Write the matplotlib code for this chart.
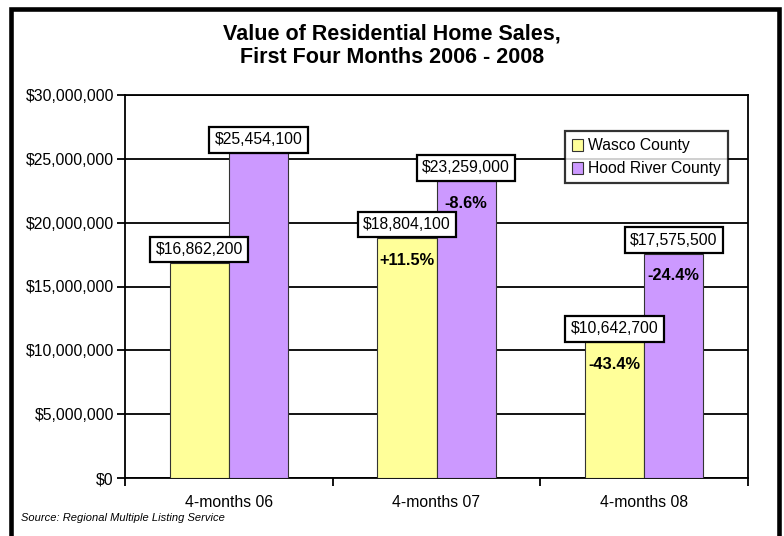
import matplotlib
matplotlib.use("Agg")
import matplotlib.pyplot as plt
from matplotlib.patches import Rectangle
from matplotlib.ticker import FuncFormatter, FixedLocator
import numpy as np

plt.rcParams['font.family'] = ['Liberation Sans', 'DejaVu Sans']

categories = ["4-months 06", "4-months 07", "4-months 08"]
series_names = ["Wasco County", "Hood River County"]
wasco = [16862200, 18804100, 10642700]
hood = [25454100, 23259000, 17575500]
wasco_pct = ["", "+11.5%", "-43.4%"]
hood_pct = ["", "-8.6%", "-24.4%"]
colors = ["#FFFF99", "#CC99FF"]

fig = plt.figure(figsize=(7.84, 5.36), dpi=100)
fig.patches.append(Rectangle((11/784, 1 - 545/536), 768/784, 536/536, transform=fig.transFigure,
                             fill=False, edgecolor='black', linewidth=3.3))

ax = fig.add_axes([125/784, 1 - 478/536, 623/784, 383/536])
x = np.arange(len(categories))
w = 0.285
b1 = ax.bar(x - w/2, wasco, w, color=colors[0], edgecolor='#333333', linewidth=0.8,
            label=series_names[0], zorder=3)
b2 = ax.bar(x + w/2, hood, w, color=colors[1], edgecolor='#333333', linewidth=0.8,
            label=series_names[1], zorder=3)

ax.set_ylim(0, 30000000)
ax.set_xlim(-0.5, 2.5)
ax.yaxis.set_major_locator(FixedLocator(np.arange(0, 30000001, 5000000)))
ax.yaxis.set_major_formatter(FuncFormatter(lambda v, p: "${:,.0f}".format(v)))
ax.grid(axis='y', color='black', linewidth=1.3, zorder=0)
ax.set_xticks(x)
ax.set_xticklabels(categories, fontsize=11.3)
ax.set_xticks([-0.5, 0.5, 1.5, 2.5], minor=True)
ax.tick_params(axis='x', which='major', length=0, pad=12)
ax.tick_params(axis='x', which='minor', length=6, width=1.3, direction='out')
ax.tick_params(axis='y', length=6, width=1.3, labelsize=11.3, pad=2)
for s in ax.spines.values():
    s.set_linewidth(1.3)
    s.set_color('black')

def label(bars, vals, pcts):
    for rect, v, p in zip(bars, vals, pcts):
        cx = rect.get_x() + rect.get_width()/2
        ax.annotate("${:,.0f}".format(v), (cx, v), xytext=(0, 4.2), textcoords='offset points',
                    ha='center', va='bottom', fontsize=11.3, zorder=5,
                    bbox=dict(boxstyle='square,pad=0.34', fc='white', ec='black', lw=1.6))
        if p:
            ax.annotate(p, (cx, v), xytext=(0, -10.5), textcoords='offset points',
                        ha='center', va='top', fontsize=11.8, fontweight='bold', zorder=5)

label(b1, wasco, wasco_pct)
label(b2, hood, hood_pct)

leg = ax.legend(loc='upper right', bbox_to_anchor=(0.968, 0.905), fontsize=11.3, frameon=True,
                fancybox=False, edgecolor='black', handlelength=0.75, handleheight=0.75,
                handletextpad=0.3, borderpad=0.45, labelspacing=0.5, borderaxespad=0)
leg.get_frame().set_linewidth(1.6)
leg.set_zorder(6)

fig.text(0.5, 1 - 46/536, "Value of Residential Home Sales,\nFirst Four Months 2006 - 2008",
         ha='center', va='center', fontsize=15.5, fontweight='bold', linespacing=1.16)
fig.text(21/784, 1 - 518/536, "Source: Regional Multiple Listing Service", fontsize=8,
         style='italic', ha='left', va='center')

fig.savefig("out.png", dpi=100)
